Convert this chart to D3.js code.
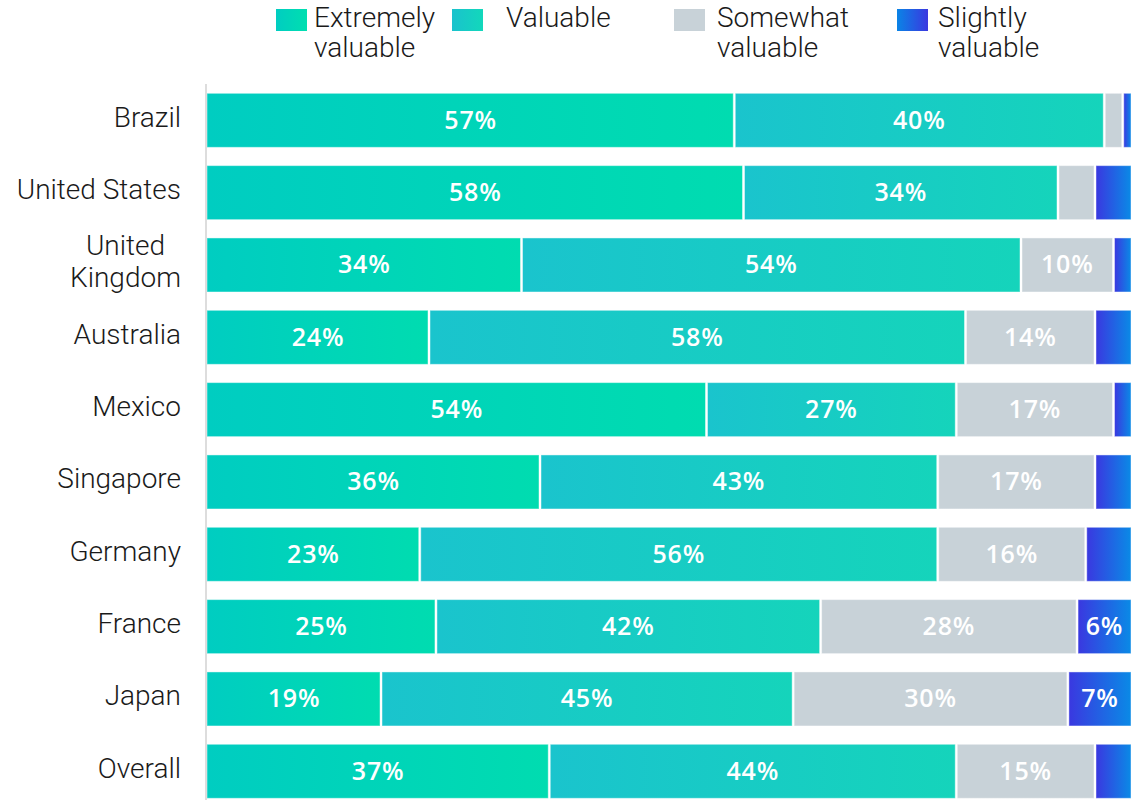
<!DOCTYPE html>
<html>
<head>
<meta charset="utf-8">
<script src="https://cdn.jsdelivr.net/npm/d3@7"></script>
<style>
  html, body { margin: 0; padding: 0; background: #fff; }
  svg { display: block; }
</style>
</head>
<body>
<svg id="chart" width="1138" height="800"></svg>
<script>
// Countries (rows, top to bottom) and their wrapped tick labels
const categories = ["Brazil", "United States", "United Kingdom", "Australia", "Mexico",
                    "Singapore", "Germany", "France", "Japan", "Overall"];
const tickLabels = [["Brazil"], ["United States"], ["United", "Kingdom"], ["Australia"], ["Mexico"],
                    ["Singapore"], ["Germany"], ["France"], ["Japan"], ["Overall"]];

// Series (stack order, left to right)
const series = ["Extremely valuable", "Valuable", "Somewhat valuable", "Slightly valuable"];
const legendLabels = [["Extremely", "valuable"], ["Valuable"], ["Somewhat", "valuable"], ["Slightly", "valuable"]];

// Share of respondents (%) per country
const extremely = [57, 58, 34, 24, 54, 36, 23, 25, 19, 37];
const valuable  = [40, 34, 54, 58, 27, 43, 56, 42, 45, 44];
const somewhat  = [ 2,  4, 10, 14, 17, 17, 16, 28, 30, 15];
const slightly  = [ 1,  4,  2,  4,  2,  4,  5,  6,  7,  4];

// Labels are printed only on segments at least this large
const labelMin = 6;

const rows = categories.map((c, i) => ({
  country: c,
  "Extremely valuable": extremely[i],
  "Valuable": valuable[i],
  "Somewhat valuable": somewhat[i],
  "Slightly valuable": slightly[i]
}));

const svg = d3.select("#chart");
const defs = svg.append("defs");

// Left-to-right gradient stops for each series
const gradStops = {
  "Extremely valuable": ["#00cdc1", "#00dcb0"],
  "Valuable":           ["#1ac4cd", "#15d4bb"],
  "Somewhat valuable":  ["#c8d2d8", "#c8d2d8"],
  "Slightly valuable":  ["#3a38e0", "#0a8ae6"]
};
const legendStops = {
  "Extremely valuable": ["#00cdc1", "#00dfb0"],
  "Valuable":           ["#1ac2cd", "#12d8bb"],
  "Somewhat valuable":  ["#c8d2d8", "#c8d2d8"],
  "Slightly valuable":  ["#0a84e6", "#3a38e0"]
};
function addGradient(id, stops) {
  const g = defs.append("linearGradient").attr("id", id)
    .attr("x1", "0%").attr("x2", "100%").attr("y1", "0%").attr("y2", "0%");
  g.append("stop").attr("offset", "0%").attr("stop-color", stops[0]);
  g.append("stop").attr("offset", "100%").attr("stop-color", stops[1]);
}
series.forEach((s, i) => {
  addGradient("grad" + i, gradStops[s]);
  addGradient("lgrad" + i, legendStops[s]);
});

// Scales
const x = d3.scaleLinear().domain([0, 1]).range([207, 1132]);
const y = d3.scaleBand().domain(categories).range([93.3, 798.3])
  .paddingInner(0.253).paddingOuter(0);

const stack = d3.stack().keys(series).offset(d3.stackOffsetExpand);
const stacked = stack(rows);

// Bars
const layers = svg.append("g").selectAll("g")
  .data(stacked).join("g")
  .attr("fill", (d, i) => `url(#grad${i})`);

layers.selectAll("rect")
  .data(d => d.map(p => ({ p, key: d.key })))
  .join("rect")
  .attr("x", d => x(d.p[0]) + (d.p[0] > 0 ? 1 : 0))
  .attr("y", d => y(d.p.data.country))
  .attr("width", d => Math.max(0, x(d.p[1]) - x(d.p[0]) - (d.p[0] > 0 ? 2 : 1)))
  .attr("height", y.bandwidth())
  .attr("stroke", "rgba(255,255,255,0.45)")
  .attr("stroke-width", 1);

// Value labels
layers.selectAll("text")
  .data(d => d.map(p => ({ p, key: d.key })).filter(d => d.p.data[d.key] >= labelMin))
  .join("text")
  .attr("x", d => (x(d.p[0]) + x(d.p[1])) / 2)
  .attr("y", d => y(d.p.data.country) + y.bandwidth() / 2 + 8.5)
  .attr("text-anchor", "middle")
  .attr("fill", "#ffffff")
  .attr("font-family", "'Open Sans', sans-serif")
  .attr("font-weight", 600)
  .attr("font-size", 25)
  .attr("letter-spacing", 0.8)
  .text(d => d.p.data[d.key] + "%");

// Left axis line
const yAxis = d3.axisLeft(y).tickSize(0).tickFormat("");
const axisG = svg.append("g").attr("transform", "translate(206,0)").call(yAxis);
axisG.select(".domain").remove();
axisG.append("line")
  .attr("x1", 0).attr("x2", 0).attr("y1", 84).attr("y2", 800)
  .attr("stroke", "#dddddd").attr("stroke-width", 2);

// Category labels (right-aligned block, multi-line labels centred on each other)
const labelFont = { family: "Roboto, sans-serif", size: 28, weight: 300 };
categories.forEach((c, i) => {
  const lines = tickLabels[i];
  const cy = y(c) + y.bandwidth() / 2;
  const lh = 32;
  const t = svg.append("text")
    .attr("font-family", labelFont.family)
    .attr("font-size", labelFont.size)
    .attr("font-weight", labelFont.weight)
    .attr("fill", "#1a1a1a");
  const spans = lines.map((ln, j) =>
    t.append("tspan").text(ln)
      .attr("y", cy + 6.5 + (j - (lines.length - 1) / 2) * lh));
  const widths = spans.map(s => s.node().getComputedTextLength());
  const w = d3.max(widths);
  spans.forEach(s => s.attr("x", 181 - w / 2).attr("text-anchor", "middle"));
});

// Legend
const legendSwatchX = [276, 452, 674, 897];
const legendTextX = [314, 506, 717, 938];
const legend = svg.append("g");
series.forEach((s, i) => {
  legend.append("rect")
    .attr("x", legendSwatchX[i]).attr("y", 9)
    .attr("width", 31).attr("height", 22)
    .attr("fill", `url(#lgrad${i})`);
  const t = legend.append("text")
    .attr("font-family", labelFont.family)
    .attr("font-size", labelFont.size)
    .attr("font-weight", labelFont.weight)
    .attr("fill", "#1a1a1a");
  legendLabels[i].forEach((ln, j) => {
    t.append("tspan").attr("x", legendTextX[i]).attr("y", 27 + j * 30).text(ln);
  });
});
</script>
</body>
</html>
